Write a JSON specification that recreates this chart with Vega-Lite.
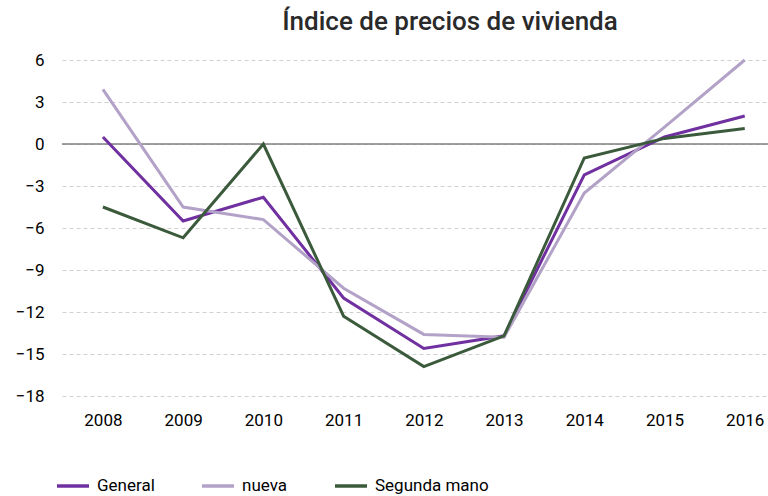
{
  "$schema": "https://vega.github.io/schema/vega-lite/v6.json",
  "width": 706,
  "height": 336,
  "autosize": {"type": "none"},
  "padding": {"left": 62, "top": 60, "right": 0, "bottom": 100},
  "background": "white",
  "title": {
    "text": "Índice de precios de vivienda",
    "font": "Roboto",
    "fontSize": 26,
    "fontWeight": 500,
    "color": "#2a2a2a",
    "anchor": "middle",
    "dx": 35,
    "offset": 16
  },
  "config": {
    "view": {"stroke": null},
    "font": "Roboto"
  },
  "datasets": {
    "series": [
      {"year": 2008, "serie": "General", "value": 0.5},
      {"year": 2009, "serie": "General", "value": -5.5},
      {"year": 2010, "serie": "General", "value": -3.8},
      {"year": 2011, "serie": "General", "value": -11.0},
      {"year": 2012, "serie": "General", "value": -14.6},
      {"year": 2013, "serie": "General", "value": -13.7},
      {"year": 2014, "serie": "General", "value": -2.2},
      {"year": 2015, "serie": "General", "value": 0.5},
      {"year": 2016, "serie": "General", "value": 2.0},
      {"year": 2008, "serie": "nueva", "value": 3.9},
      {"year": 2009, "serie": "nueva", "value": -4.5},
      {"year": 2010, "serie": "nueva", "value": -5.4},
      {"year": 2011, "serie": "nueva", "value": -10.3},
      {"year": 2012, "serie": "nueva", "value": -13.6},
      {"year": 2013, "serie": "nueva", "value": -13.8},
      {"year": 2014, "serie": "nueva", "value": -3.5},
      {"year": 2015, "serie": "nueva", "value": 1.2},
      {"year": 2016, "serie": "nueva", "value": 6.0},
      {"year": 2008, "serie": "Segunda mano", "value": -4.5},
      {"year": 2009, "serie": "Segunda mano", "value": -6.7},
      {"year": 2010, "serie": "Segunda mano", "value": 0.0},
      {"year": 2011, "serie": "Segunda mano", "value": -12.3},
      {"year": 2012, "serie": "Segunda mano", "value": -15.9},
      {"year": 2013, "serie": "Segunda mano", "value": -13.7},
      {"year": 2014, "serie": "Segunda mano", "value": -1.0},
      {"year": 2015, "serie": "Segunda mano", "value": 0.4},
      {"year": 2016, "serie": "Segunda mano", "value": 1.1}
    ],
    "zero": [{"y": 0}]
  },
  "layer": [
    {
      "data": {"name": "zero"},
      "mark": {"type": "rule", "color": "#808080", "strokeWidth": 1.5},
      "encoding": {"y": {"field": "y", "type": "quantitative", "scale": {"domain": [-18, 6]}}}
    },
    {
      "data": {"name": "series"},
      "mark": {"type": "line", "strokeWidth": 3, "strokeJoin": "miter"},
      "encoding": {
        "x": {
          "field": "year",
          "type": "quantitative",
          "scale": {"domain": [2007.49, 2016.29], "nice": false, "zero": false},
          "axis": {
            "title": null,
            "values": [2008, 2009, 2010, 2011, 2012, 2013, 2014, 2015, 2016],
            "format": "d",
            "grid": false,
            "domain": false,
            "ticks": false,
            "labelFontSize": 17,
            "labelColor": "#000000",
            "labelPadding": 16
          }
        },
        "y": {
          "field": "value",
          "type": "quantitative",
          "scale": {"domain": [-18, 6], "nice": false, "zero": false},
          "axis": {
            "title": null,
            "values": [-18, -15, -12, -9, -6, -3, 0, 3, 6],
            "domain": false,
            "ticks": false,
            "grid": true,
            "gridColor": "#d0d0d0",
            "gridDash": [4, 3],
            "gridWidth": 1,
            "labelFontSize": 17,
            "labelColor": "#000000",
            "labelPadding": 18
          }
        },
        "color": {
          "field": "serie",
          "type": "nominal",
          "scale": {
            "domain": ["General", "nueva", "Segunda mano"],
            "range": ["#7030a0", "#b3a2c7", "#3b5a3b"]
          },
          "legend": {
            "title": null,
            "orient": "none",
            "direction": "horizontal",
            "legendX": -7,
            "legendY": 408,
            "symbolType": "stroke",
            "symbolSize": 1024,
            "symbolStrokeWidth": 3.5,
            "labelFontSize": 17,
            "labelColor": "#000000",
            "labelOffset": 6,
            "columnPadding": 40
          }
        }
      }
    }
  ]
}
